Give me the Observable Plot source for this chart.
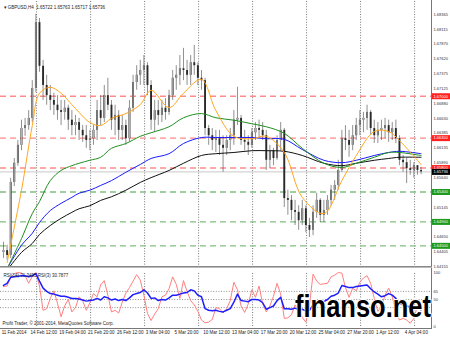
<!DOCTYPE html>
<html><head><meta charset="utf-8">
<script src="https://cdn.jsdelivr.net/npm/d3@7"></script>
<script src="https://cdn.jsdelivr.net/npm/@observablehq/plot@0.6"></script>
<style>
body{margin:0;background:#fff}
#wrap{position:relative;width:450px;height:337px;overflow:hidden;background:#fff;font-family:"Liberation Sans",Arial,sans-serif}
#wrap > svg{position:absolute;left:0}
.ln{position:absolute}
</style></head><body>
<div id="wrap"></div>
<script>
// ---- data (GBPUSD H4, one candle = 2 bars) ----
const open0 = 1.6439;
const high = [1.6456,1.6451,1.6563,1.6596,1.6626,1.6660,1.6663,1.6676,1.6726,1.6837,
 1.6830,1.6760,1.6735,1.6718,1.6705,1.6701,1.6693,1.6693,1.6685,1.6676,
 1.6668,1.6663,1.6651,1.6651,1.6643,1.6651,1.6693,1.6701,1.6718,1.6730,
 1.6693,1.6685,1.6676,1.6668,1.6660,1.6693,1.6735,1.6751,1.6760,1.6768,
 1.6756,1.6726,1.6693,1.6693,1.6693,1.6696,1.6710,1.6743,1.6751,1.6768,
 1.6780,1.6760,1.6768,1.6785,1.6756,1.6743,1.6730,1.6651,1.6646,1.6643,
 1.6643,1.6634,1.6634,1.6646,1.6676,1.6715,1.6668,1.6643,1.6634,1.6646,
 1.6656,1.6660,1.6656,1.6643,1.6618,1.6613,1.6634,1.6656,1.6646,1.6543,
 1.6534,1.6526,1.6517,1.6526,1.6517,1.6496,1.6517,1.6538,1.6529,1.6526,
 1.6534,1.6551,1.6559,1.6593,1.6643,1.6651,1.6643,1.6651,1.6663,1.6676,
 1.6673,1.6685,1.6676,1.6660,1.6656,1.6660,1.6663,1.6660,1.6656,1.6660,
 1.6634,1.6601,1.6596,1.6593,1.6589,1.6584,1.6581];
const low = [1.6429,1.6426,1.6429,1.6549,1.6583,1.6609,1.6633,1.6643,1.6656,1.6706,
 1.6740,1.6693,1.6685,1.6676,1.6668,1.6660,1.6651,1.6660,1.6643,1.6634,
 1.6634,1.6626,1.6623,1.6613,1.6609,1.6618,1.6626,1.6651,1.6656,1.6676,
 1.6643,1.6634,1.6626,1.6626,1.6618,1.6623,1.6673,1.6710,1.6718,1.6718,
 1.6701,1.6643,1.6639,1.6651,1.6656,1.6660,1.6668,1.6693,1.6710,1.6718,
 1.6726,1.6718,1.6718,1.6735,1.6718,1.6710,1.6634,1.6618,1.6609,1.6606,
 1.6601,1.6573,1.6601,1.6609,1.6618,1.6651,1.6618,1.6609,1.6601,1.6613,
 1.6626,1.6629,1.6626,1.6576,1.6579,1.6584,1.6593,1.6609,1.6514,1.6501,
 1.6492,1.6484,1.6476,1.6484,1.6472,1.6464,1.6467,1.6496,1.6489,1.6489,
 1.6501,1.6517,1.6526,1.6543,1.6573,1.6609,1.6598,1.6609,1.6626,1.6634,
 1.6639,1.6643,1.6634,1.6621,1.6621,1.6626,1.6629,1.6623,1.6626,1.6621,
 1.6584,1.6573,1.6554,1.6568,1.6563,1.6568,1.6569];
const close = [1.6442,1.6434,1.6556,1.6588,1.6618,1.6646,1.6651,1.6663,1.6713,1.6823,
 1.6750,1.6718,1.6701,1.6693,1.6685,1.6676,1.6673,1.6680,1.6660,1.6651,
 1.6656,1.6643,1.6634,1.6626,1.6629,1.6643,1.6676,1.6663,1.6701,1.6685,
 1.6660,1.6668,1.6643,1.6651,1.6629,1.6680,1.6723,1.6735,1.6743,1.6751,
 1.6718,1.6660,1.6676,1.6668,1.6680,1.6673,1.6701,1.6730,1.6735,1.6746,
 1.6743,1.6735,1.6756,1.6751,1.6730,1.6726,1.6646,1.6634,1.6626,1.6629,
 1.6618,1.6613,1.6626,1.6634,1.6660,1.6663,1.6626,1.6623,1.6618,1.6639,
 1.6646,1.6643,1.6634,1.6593,1.6609,1.6596,1.6626,1.6643,1.6529,1.6526,
 1.6509,1.6506,1.6492,1.6512,1.6484,1.6476,1.6506,1.6526,1.6501,1.6509,
 1.6526,1.6543,1.6551,1.6576,1.6629,1.6626,1.6618,1.6634,1.6651,1.6660,
 1.6663,1.6673,1.6646,1.6634,1.6643,1.6646,1.6651,1.6639,1.6646,1.6629,
 1.6593,1.6589,1.6579,1.6576,1.6584,1.6576,1.65736];

const maIdx = [1,5,8,10,13,16,19,21,24,27,30,34,38,41,46,50,55,59,64,69,73,78,83,89,94,98,103,107,110,116];
const maOrange = [1.6422,1.6543,1.6651,1.6705,1.6715,1.6705,1.6686,1.6673,1.6656,1.6651,1.6663,1.6671,1.6686,1.6710,1.6681,1.6705,1.6728,1.6676,1.6633,1.6629,1.6633,1.6606,1.6531,1.6504,1.6559,1.6601,1.6641,1.6641,1.6626,1.6586];
const maGreen = [1.6412,1.6462,1.6504,1.6524,1.6559,1.6576,1.6584,1.6588,1.6593,1.6598,1.6613,1.6621,1.6633,1.6639,1.6649,1.6664,1.6671,1.6664,1.6660,1.6654,1.6649,1.6638,1.6613,1.6588,1.6581,1.6588,1.6598,1.6606,1.6606,1.6601];
const maBlue = [1.6412,1.6451,1.6471,1.6489,1.6509,1.6521,1.6531,1.6538,1.6543,1.6551,1.6559,1.6573,1.6586,1.6596,1.6604,1.6621,1.6631,1.6631,1.6631,1.6631,1.6629,1.6628,1.6611,1.6593,1.6589,1.6593,1.6601,1.6606,1.6608,1.6604];
const maBlack = [1.6409,1.6439,1.6454,1.6469,1.6484,1.6496,1.6506,1.6512,1.6517,1.6526,1.6532,1.6543,1.6556,1.6564,1.6576,1.6588,1.6601,1.6604,1.6606,1.6609,1.6609,1.6608,1.6601,1.6588,1.6584,1.6588,1.6593,1.6596,1.6598,1.6598];

const rsi3 = [74,75,91,98,100,99,94,80,93,100,
 75,30,33,52,66,43,18,38,50,27,
 35,55,48,30,44,61,55,77,85,58,
 27,30,25,45,62,72,84,96,86,58,
 24,11,23,33,55,58,70,92,78,52,
 85,65,48,40,28,12,7,8,13,35,
 33,25,33,48,82,68,38,26,42,68,
 54,75,42,27,38,56,80,60,15,16,
 22,40,30,17,8,40,97,84,78,79,
 80,92,95,100,99,72,54,71,66,82,
 90,94,80,52,28,38,58,71,55,28,
 12,15,12,6,15,38,31];
const rsi14 = [76,80,91,92,93,94,94,92,94,98,
 84,71,65,61,60,58,56,56,54,52,
 52,51,49,47,48,49,52,49,55,53,
 49,51,48,50,48,53,59,61,63,68,
 62,52,53,48,50,49,53,58,58,60,
 62,63,68,66,58,55,33,30,29,30,
 28,27,30,33,45,60,48,47,46,50,
 50,49,44,32,35,38,48,54,33,33,
 32,34,31,32,29,30,40,45,43,46,
 50,56,58,62,76,74,72,72,74,75,
 76,77,70,64,60,55,57,61,58,52,
 42,40,38,36,36,34,31];

const priceTicks = [1.64155,1.64405,1.64650,1.64900,1.65145,1.65395,1.65640,1.65890,1.66135,1.66385,1.66630,1.66880,1.67125,1.67375,1.67620,1.67870,1.68115,1.68365];
const redLevels = [1.67000, 1.66300, 1.65800];
const greenLevels = [1.65400, 1.64900, 1.64500];
const bid = 1.65736;
const timeLabels = ["11 Feb 2014","14 Feb 12:00","19 Feb 04:00","21 Feb 20:00","26 Feb 12:00","3 Mar 04:00","5 Mar 20:00","10 Mar 12:00","13 Mar 04:00","17 Mar 20:00","20 Mar 12:00","25 Mar 04:00","27 Mar 20:00","1 Apr 12:00","4 Apr 04:00"];
const timeIdx = [-0.5,7.5,15.5,23.5,31.5,39.5,47.5,55.5,63.5,71.5,79.5,87.5,95.5,103.5,111.5];
const gridIdx = [9.2,24.2,39.2,54.2,69.2,84.2,99.2,114.2];
const rsiLevels = [65, 50, 35];
const rsiTicks = [100, 65, 50, 0];
const title = "\u25BE GBPUSD,H4  1.65722 1.65763 1.65717 1.65736";
const rsiTitle = "RSI(14) 31.3495 RSI(3) 30.7877";
const copyright = "Profit Trader, \u00A9 2001-2014, MetaQuotes Software Corp.";
const watermark = "finanso.net";

// ---- build ----
const xDomain = [-0.83, 118.9];
const bars = close.map((c, i) => ({i, o: i ? close[i - 1] : open0, h: high[i], l: low[i], c}));
const bull = bars.filter(d => d.c > d.o);
const series = vals => maIdx.map((x, k) => ({x, y: vals[k]}));
const boxSym = {draw(ctx) { ctx.rect(0, -3, 19, 6); }};
const font = "'Liberation Sans', Arial, sans-serif";
const fmt = d => d.toFixed(5);

const main = Plot.plot({
  width: 450, height: 268, marginLeft: 0, marginRight: 19, marginTop: 1, marginBottom: 2,
  x: {domain: xDomain, axis: null},
  y: {domain: [1.64155, 1.68583], axis: null},
  style: {background: "transparent", fontFamily: font},
  marks: [
    Plot.ruleX(gridIdx, {stroke: "#555", strokeWidth: 0.8, strokeDasharray: "1,1.6"}),
    Plot.ruleY([bid], {stroke: "#c8c8c8", strokeWidth: 1}),
    Plot.ruleY(redLevels, {stroke: "#ff8c8c", strokeWidth: 1.4, strokeDasharray: "6,4"}),
    Plot.ruleY(greenLevels, {stroke: "#80c080", strokeWidth: 1.4, strokeDasharray: "6,4"}),
    Plot.ruleX(bars, {x: "i", y1: "l", y2: "h", stroke: "#444", strokeWidth: 0.6}),
    Plot.ruleX(bars, {x: "i", y1: "o", y2: "c", stroke: "#2a2a2a", strokeWidth: 1.9}),
    Plot.ruleX(bull, {x: "i", y1: "o", y2: "c", stroke: "#eee", strokeWidth: 0.7}),
    Plot.line(series(maBlack), {x: "x", y: "y", stroke: "#111", strokeWidth: 1, curve: "catmull-rom"}),
    Plot.line(series(maBlue), {x: "x", y: "y", stroke: "#1a1aff", strokeWidth: 1, curve: "catmull-rom"}),
    Plot.line(series(maGreen), {x: "x", y: "y", stroke: "#1f8f1f", strokeWidth: 1, curve: "catmull-rom"}),
    Plot.line(series(maOrange), {x: "x", y: "y", stroke: "#ffa620", strokeWidth: 1, curve: "catmull-rom"}),
    Plot.text(priceTicks, {y: d => d, text: fmt, frameAnchor: "right", dx: 2, textAnchor: "start", fontSize: 4, fill: "#333"}),
    Plot.dot(greenLevels, {y: d => d, frameAnchor: "right", symbol: boxSym, fill: "#1e9a1e"}),
    Plot.text(greenLevels, {y: d => d, text: fmt, frameAnchor: "right", dx: 2, textAnchor: "start", fontSize: 4, fill: "#fff"}),
    Plot.dot(redLevels, {y: d => d, frameAnchor: "right", symbol: boxSym, fill: "#ff2020"}),
    Plot.text(redLevels, {y: d => d, text: fmt, frameAnchor: "right", dx: 2, textAnchor: "start", fontSize: 4, fill: "#fff"}),
    Plot.dot([bid], {y: d => d, frameAnchor: "right", symbol: boxSym, fill: "#000"}),
    Plot.text([bid], {y: d => d, text: fmt, frameAnchor: "right", dx: 2, textAnchor: "start", fontSize: 4, fill: "#fff"}),
    Plot.text([title], {text: d => d, frameAnchor: "top-left", dx: 3, dy: 4, textAnchor: "start", fontSize: 4.5, fill: "#222"})
  ]
});

const rsi = Plot.plot({
  width: 450, height: 71, marginLeft: 0, marginRight: 19, marginTop: 6, marginBottom: 11,
  x: {domain: xDomain, axis: null},
  y: {domain: [0, 100], axis: null},
  style: {background: "transparent", fontFamily: font},
  marks: [
    Plot.ruleX(gridIdx, {stroke: "#555", strokeWidth: 0.8, strokeDasharray: "1,1.6", y1: 0, y2: 100}),
    Plot.ruleY(rsiLevels, {stroke: "#777", strokeWidth: 0.8, strokeDasharray: "1,1.6"}),
    Plot.line(rsi3.map((v, i) => ({i, v})), {x: "i", y: "v", stroke: "#ff8080", strokeWidth: 1}),
    Plot.line(rsi14.map((v, i) => ({i, v})), {x: "i", y: "v", stroke: "#1e1eff", strokeWidth: 1.5}),
    Plot.text(rsiTicks, {y: d => d, text: d => String(d), frameAnchor: "right", dx: 2, textAnchor: "start", fontSize: 4, fill: "#333"}),
    Plot.text([rsiTitle], {text: d => d, frameAnchor: "top-left", dx: 3, dy: 1.5, textAnchor: "start", fontSize: 4.5, fill: "#222"}),
    Plot.text([copyright], {text: d => d, frameAnchor: "bottom-left", dx: 2, dy: -2, textAnchor: "start", fontSize: 4.5, fill: "#222"}),
    Plot.text(timeIdx.map((x, k) => ({x, t: timeLabels[k]})), {x: "x", text: "t", frameAnchor: "bottom", dy: 7, textAnchor: "start", fontSize: 4.5, fill: "#222"})
  ]
});

const wrap = document.getElementById("wrap");
main.style.top = "0px";
rsi.style.top = "266px";
wrap.appendChild(main);
wrap.appendChild(rsi);

function line(l, t, w, h, c) {
  const d = document.createElement("div");
  d.className = "ln";
  Object.assign(d.style, {left: l + "px", top: t + "px", width: w + "px", height: h + "px", background: c});
  wrap.appendChild(d);
}
line(431, 0, 1, 329, "#777");
line(0, 266, 432, 1, "#888");
line(0, 267, 432, 1, "#bbb");
line(0, 328, 432, 1, "#777");

const ns = "http://www.w3.org/2000/svg";
const ov = document.createElementNS(ns, "svg");
ov.setAttribute("width", 450); ov.setAttribute("height", 337);
ov.style.top = "0px"; ov.style.pointerEvents = "none";
const t = document.createElementNS(ns, "text");
t.setAttribute("transform", "translate(295,317) scale(1,1.2)");
t.setAttribute("x", 0); t.setAttribute("y", 0);
t.setAttribute("font-family", font); t.setAttribute("font-weight", "bold");
t.setAttribute("font-size", 25.5);
t.setAttribute("fill", "#000"); t.setAttribute("stroke", "#fff");
t.setAttribute("stroke-width", 1.5); t.setAttribute("paint-order", "stroke");
t.textContent = watermark;
ov.appendChild(t);
wrap.appendChild(ov);
</script>
</body></html>
